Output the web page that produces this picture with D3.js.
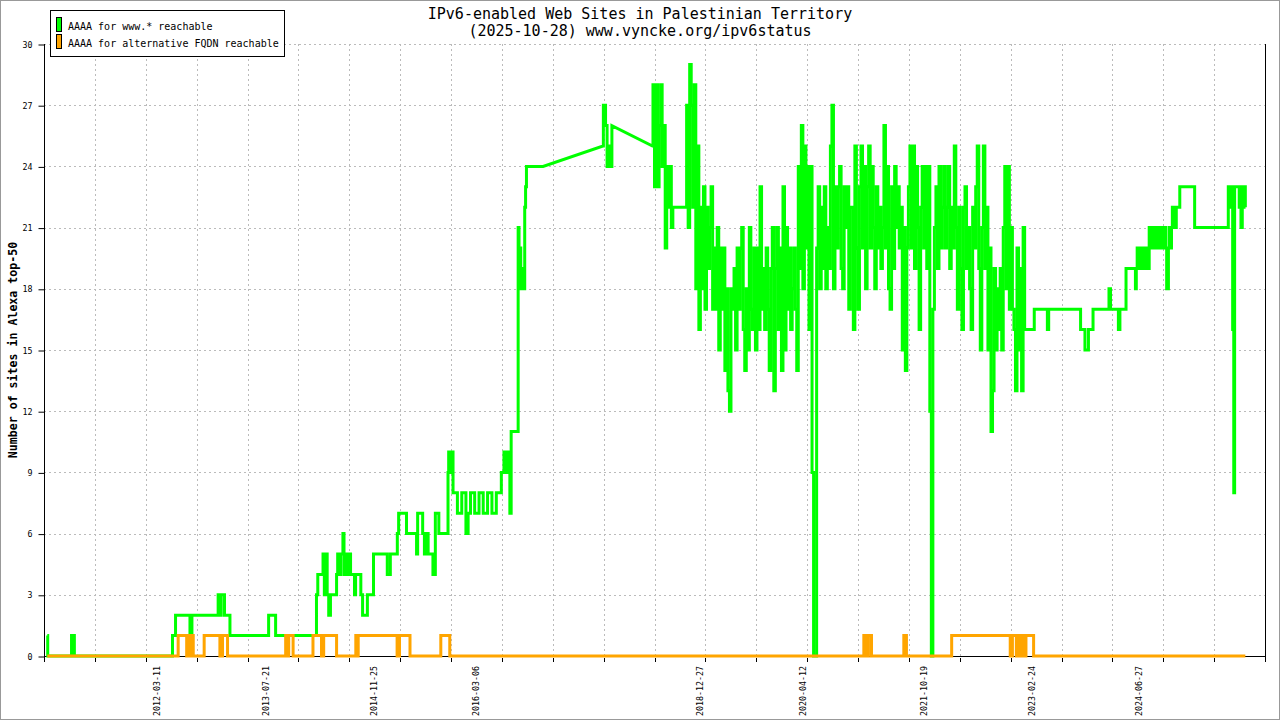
<!DOCTYPE html>
<html>
<head>
<meta charset="utf-8">
<script src="https://cdn.jsdelivr.net/npm/d3@7"></script>
<style>
body { margin: 0; background: #fff; }
text { font-family: "DejaVu Sans Mono", "Liberation Mono", monospace; fill: #000; }
</style>
</head>
<body>
<div id="chart"></div>
<script>
// chart texts
let titleLines = ['IPv6-enabled Web Sites in Palestinian Territory', '(2025-10-28) www.vyncke.org/ipv6status'];
let seriesNames = ['AAAA for www.* reachable', 'AAAA for alternative FQDN reachable'];
let yLabel = 'Number of sites in Alexa top-50';

// axes
let axisStart = '2010-10-09';
let axisEnd = '2026-01-26';
let xTickCount = 24;
let yTicks = [0, 3, 6, 9, 12, 15, 18, 21, 24, 27, 30];
let xLabels = ['2012-03-11', '2013-07-21', '2014-11-25', '2016-03-06', '2018-12-27',
	'2020-04-12', '2021-10-19', '2023-02-24', '2024-06-27'];

// www.* : [date, value, gap?] - value holds until the next date; "gap" = no samples until next
let greenEarly = [
	['2010-10-24', 1], ['2010-10-26', 0], ['2011-02-12', 1], ['2011-02-25', 0],
	['2012-05-19', 1], ['2012-06-02', 2], ['2012-08-07', 1], ['2012-08-16', 2],
	['2012-12-14', 3], ['2012-12-24', 2], ['2012-12-28', 3], ['2013-01-12', 2],
	['2013-02-06', 1], ['2013-08-02', 2], ['2013-09-03', 1], ['2014-03-09', 3],
	['2014-03-15', 4], ['2014-04-08', 5], ['2014-04-14', 3], ['2014-04-20', 5],
	['2014-04-27', 3], ['2014-05-04', 2], ['2014-05-12', 3], ['2014-06-09', 4],
	['2014-06-14', 5], ['2014-06-23', 4], ['2014-06-28', 5], ['2014-07-08', 6],
	['2014-07-13', 4], ['2014-07-20', 5], ['2014-07-29', 4], ['2014-08-06', 5],
	['2014-08-12', 4], ['2014-08-30', 3], ['2014-09-04', 4], ['2014-09-28', 3],
	['2014-10-06', 2], ['2014-10-28', 3], ['2014-11-25', 5], ['2015-01-27', 4],
	['2015-02-10', 5], ['2015-03-14', 6], ['2015-03-20', 7], ['2015-04-25', 6],
	['2015-06-10', 5], ['2015-06-15', 7], ['2015-07-08', 6], ['2015-07-16', 5],
	['2015-07-24', 6], ['2015-08-02', 5], ['2015-08-24', 4], ['2015-09-04', 7],
	['2015-09-20', 6], ['2015-11-01', 9], ['2015-11-04', 10], ['2015-11-10', 9],
	['2015-11-14', 10], ['2015-11-24', 8], ['2015-12-14', 7], ['2016-01-03', 8],
	['2016-01-22', 6], ['2016-02-01', 7], ['2016-02-12', 8], ['2016-03-02', 7],
	['2016-03-22', 8], ['2016-04-10', 7], ['2016-04-30', 8], ['2016-05-20', 7],
	['2016-06-09', 8], ['2016-07-02', 9],
	['2016-07-14', 10], ['2016-07-22', 9], ['2016-07-30', 10], ['2016-08-10', 7],
	['2016-08-16', 11], ['2016-09-17', 21], ['2016-09-21', 18], ['2016-09-25', 20],
	['2016-09-29', 18], ['2016-10-05', 19], ['2016-10-12', 18], ['2016-10-17', 22],
	['2016-10-21', 23], ['2016-10-25', 24], ['2017-01-09', 24, 'gap'],
	['2017-10-10', 25], ['2017-10-12', 27], ['2017-10-22', 26], ['2017-10-29', 24],
	['2017-11-05', 25], ['2017-11-10', 24], ['2017-11-20', 26, 'gap'],
	['2018-05-25', 25]
];

// www.* weekly readings from 2018-05-27
let weeklyStart = '2018-05-27';
let weeklyDays = 7;
let greenWeekly = [
	28, 23, 28, 23, 26, 28, 24, 26, 20, 24, 22, 24, 21,
	22, 22, 22, 22, 22, 22, 22, 22, 22, 27, 21, 29, 27,
	22, 28, 18, 25, 16, 22, 18, 23, 17, 22, 19, 21, 23,
	17, 20, 17, 21, 15, 20, 17, 20, 14, 18, 13, 12, 18,
	17, 19, 15, 20, 17, 20, 21, 16, 14, 18, 15, 21, 17,
	16, 20, 15, 20, 16, 23, 17, 19, 16, 20, 17, 14, 19,
	21, 13, 19, 21, 16, 20, 14, 23, 15, 21, 17, 20, 16,
	18, 20, 17, 14, 24, 19, 26, 18, 25, 20, 24, 16, 24,
	9, 0, 0, 20, 23, 18, 22, 19, 23, 18, 21, 19, 25,
	27, 18, 23, 20, 23, 24, 19, 18, 23, 21, 23, 17, 22,
	22, 16, 25, 20, 17, 23, 25, 20, 24, 18, 23, 25, 20,
	24, 21, 18, 23, 20, 22, 19, 21, 26, 20, 24, 18, 17,
	23, 19, 24, 21, 23, 20, 22, 15, 21, 14, 20, 23, 25,
	20, 25, 19, 24, 21, 16, 22, 24, 20, 24, 19, 24, 12,
	0, 17, 21, 23, 19, 24, 20, 22, 24, 20, 22, 24, 19,
	22, 20, 25, 21, 17, 22, 19, 16, 22, 23, 19, 21, 18,
	16, 22, 20, 23, 25, 19, 15, 21, 25, 19, 22, 15, 20,
	11, 13, 19, 15, 18, 16, 19, 15, 21, 24, 18, 24, 17,
	21, 17, 16, 13, 20, 15, 19, 13, 21, 16, 16, 16, 16,
	16, 16, 16
];

let greenLate = [
	['2023-03-07', 17], ['2023-05-06', 16], ['2023-05-12', 17], ['2023-10-05', 16],
	['2023-10-25', 15], ['2023-11-10', 16], ['2023-12-01', 17], ['2024-02-12', 18],
	['2024-02-19', 17], ['2024-03-26', 16], ['2024-04-02', 17], ['2024-04-30', 19],
	['2024-06-12', 18], ['2024-06-16', 19], ['2024-06-20', 20], ['2024-06-25', 19],
	['2024-07-01', 20], ['2024-07-05', 19], ['2024-07-10', 20], ['2024-07-14', 19],
	['2024-07-19', 20], ['2024-07-23', 19], ['2024-07-28', 20], ['2024-08-02', 19],
	['2024-08-07', 20], ['2024-08-12', 19], ['2024-08-14', 21], ['2024-08-19', 20],
	['2024-08-24', 21], ['2024-08-29', 20], ['2024-09-03', 21], ['2024-09-08', 20],
	['2024-09-13', 21], ['2024-09-18', 20], ['2024-09-23', 21], ['2024-09-28', 20],
	['2024-10-03', 21], ['2024-10-08', 20], ['2024-10-13', 21], ['2024-10-18', 20],
	['2024-10-23', 21], ['2024-10-29', 20], ['2024-11-02', 18], ['2024-11-10', 20],
	['2024-11-14', 21], ['2024-11-19', 20], ['2024-11-24', 21], ['2024-11-28', 22],
	['2024-12-03', 21], ['2024-12-07', 22], ['2024-12-12', 21], ['2024-12-16', 22],
	['2025-01-01', 23], ['2025-03-10', 21], ['2025-08-11', 23], ['2025-08-18', 22],
	['2025-08-22', 23], ['2025-08-27', 22], ['2025-08-31', 16], ['2025-09-05', 8],
	['2025-09-09', 23], ['2025-09-30', 22], ['2025-10-04', 23], ['2025-10-08', 21],
	['2025-10-14', 23], ['2025-10-18', 22], ['2025-10-22', 23], ['2025-10-28', 22]
];

// alternative FQDN
let orangeSteps = [
	['2010-10-24', 0], ['2012-06-14', 1], ['2012-07-23', 0], ['2012-07-27', 1],
	['2012-08-02', 0], ['2012-08-06', 1], ['2012-08-12', 0], ['2012-08-16', 1],
	['2012-08-22', 0], ['2012-10-11', 1], ['2012-12-22', 0], ['2013-01-03', 1],
	['2013-01-26', 0], ['2013-10-19', 1], ['2013-10-29', 0], ['2013-11-02', 1],
	['2013-11-22', 0], ['2014-02-21', 1], ['2014-04-01', 0], ['2014-04-11', 1],
	['2014-06-09', 0], ['2014-09-05', 1], ['2014-09-11', 0], ['2014-09-16', 1],
	['2015-03-13', 0], ['2015-03-24', 1], ['2015-05-11', 0], ['2015-09-29', 1],
	['2015-11-09', 0], ['2021-01-16', 1], ['2021-01-29', 0], ['2021-02-06', 1],
	['2021-02-20', 0], ['2021-07-18', 1], ['2021-07-30', 0], ['2022-02-22', 1],
	['2022-11-17', 0], ['2022-11-27', 1], ['2022-12-15', 0], ['2022-12-20', 1],
	['2022-12-29', 0], ['2023-01-03', 1], ['2023-01-10', 0], ['2023-01-16', 1],
	['2023-01-22', 0], ['2023-01-28', 1], ['2023-03-04', 0], ['2025-10-28', 0]
];

let colors = ['#00ff00', '#ffa500'];

let width = 1280;
let height = 720;
let plotLeft = 44, plotRight = 1265, plotTop = 44, plotBottom = 656;

let parse = d3.timeParse('%Y-%m-%d');

let svg = d3.select('#chart')
	.append('svg')
	.attr('width', width)
	.attr('height', height);

svg.append('rect')
	.attr('x', 0.5).attr('y', 0.5)
	.attr('width', width - 1).attr('height', height - 1)
	.attr('fill', '#fff')
	.attr('stroke', '#999');

let x = d3.scaleTime()
	.domain([parse(axisStart), parse(axisEnd)])
	.range([plotLeft, plotRight]);

let y = d3.scaleLinear()
	.domain([0, 30])
	.range([plotBottom, plotTop]);

let d0 = +x.domain()[0], d1 = +x.domain()[1];
let xTicks = d3.range(xTickCount + 1).map(i => new Date(d0 + (d1 - d0) * i / xTickCount));

// grid
svg.append('g')
	.selectAll('line')
	.data(yTicks.slice(1))
	.enter()
	.append('line')
	.attr('x1', plotLeft).attr('x2', plotRight)
	.attr('y1', d => Math.round(y(d)) + 0.5)
	.attr('y2', d => Math.round(y(d)) + 0.5)
	.attr('stroke', '#bbb')
	.attr('stroke-dasharray', '2,3');

svg.append('g')
	.selectAll('line')
	.data(xTicks.slice(1, -1))
	.enter()
	.append('line')
	.attr('x1', d => Math.round(x(d)) + 0.5)
	.attr('x2', d => Math.round(x(d)) + 0.5)
	.attr('y1', plotTop).attr('y2', plotBottom)
	.attr('stroke', '#bbb')
	.attr('stroke-dasharray', '2,3');

// axes lines (under the data)
svg.append('line')
	.attr('x1', plotLeft + 0.5).attr('x2', plotLeft + 0.5)
	.attr('y1', plotTop).attr('y2', plotBottom + 6)
	.attr('stroke', '#000');
svg.append('line')
	.attr('x1', plotRight + 0.5).attr('x2', plotRight + 0.5)
	.attr('y1', plotTop).attr('y2', plotBottom + 6)
	.attr('stroke', '#000');
svg.append('line')
	.attr('x1', plotLeft).attr('x2', plotRight + 1)
	.attr('y1', plotBottom + 0.5).attr('y2', plotBottom + 0.5)
	.attr('stroke', '#000');

// turn step records into polyline vertices
function toSamples(rows){
	return rows.map(r => ({date: parse(r[0]), value: r[1], gap: r[2] === 'gap'}));
}

function stepPoints(samples){
	let p = [];
	for(let i = 0; i < samples.length; i++){
		let a = samples[i];
		let b = samples[i + 1];
		p.push([a.date, a.value]);
		if(b && !a.gap) p.push([b.date, a.value]);
	}
	return p;
}

let ws = parse(weeklyStart);
let greenSamples = toSamples(greenEarly)
	.concat(greenWeekly.map((v, i) => ({date: d3.timeDay.offset(ws, i * weeklyDays), value: v, gap: false})))
	.concat(toSamples(greenLate));
let orangeSamples = toSamples(orangeSteps);

let line = d3.line()
	.x(d => x(d[0]))
	.y(d => y(d[1]));

svg.append('path')
	.datum(stepPoints(greenSamples))
	.attr('d', line)
	.attr('fill', 'none')
	.attr('stroke', colors[0])
	.attr('stroke-width', 3)
	.attr('stroke-linejoin', 'miter');

svg.append('path')
	.datum(stepPoints(orangeSamples))
	.attr('d', line)
	.attr('fill', 'none')
	.attr('stroke', colors[1])
	.attr('stroke-width', 3)
	.attr('stroke-linejoin', 'miter');

// y axis
let yAxis = d3.axisLeft(y)
	.tickValues(yTicks)
	.tickSize(6)
	.tickSizeOuter(0)
	.tickPadding(6);

let yg = svg.append('g')
	.attr('transform', 'translate(' + (plotLeft + 0.5) + ',0.5)')
	.call(yAxis);
yg.select('.domain').remove();
yg.selectAll('text')
	.attr('font-size', 8.3)
	.attr('font-family', '"DejaVu Sans Mono", monospace');

// x ticks
svg.append('g')
	.selectAll('line')
	.data(xTicks)
	.enter()
	.append('line')
	.attr('x1', d => Math.round(x(d)) + 0.5)
	.attr('x2', d => Math.round(x(d)) + 0.5)
	.attr('y1', plotBottom + 2).attr('y2', plotBottom + 6)
	.attr('stroke', '#000');

svg.append('g')
	.selectAll('text')
	.data(xLabels)
	.enter()
	.append('text')
	.attr('transform', d => 'translate(' + (x(parse(d)) + 3) + ',' + (plotBottom + 10) + ') rotate(-90)')
	.attr('text-anchor', 'end')
	.attr('font-size', 8.3)
	.text(d => d);

// y label
svg.append('text')
	.attr('transform', 'translate(17,350) rotate(-90)')
	.attr('text-anchor', 'middle')
	.attr('font-size', 11.6)
	.attr('font-weight', 'bold')
	.text(yLabel);

// title
svg.selectAll('.title')
	.data(titleLines)
	.enter()
	.append('text')
	.attr('class', 'title')
	.attr('x', 640)
	.attr('y', (d, i) => 19 + i * 17)
	.attr('text-anchor', 'middle')
	.attr('font-size', 15)
	.text(d => d);

// legend
let legend = svg.append('g');
legend.append('rect')
	.attr('x', 50.5).attr('y', 10.5)
	.attr('width', 234).attr('height', 46)
	.attr('fill', '#fff')
	.attr('stroke', '#000');

let items = legend.selectAll('g')
	.data(seriesNames)
	.enter()
	.append('g')
	.attr('transform', (d, i) => 'translate(0,' + (i * 17) + ')');

items.append('rect')
	.attr('x', 56.5).attr('y', 17.5)
	.attr('width', 5).attr('height', 14)
	.attr('fill', (d, i) => colors[i])
	.attr('stroke', '#000');

items.append('text')
	.attr('x', 68)
	.attr('y', 30)
	.attr('font-size', 10)
	.text(d => d);
</script>
</body>
</html>
